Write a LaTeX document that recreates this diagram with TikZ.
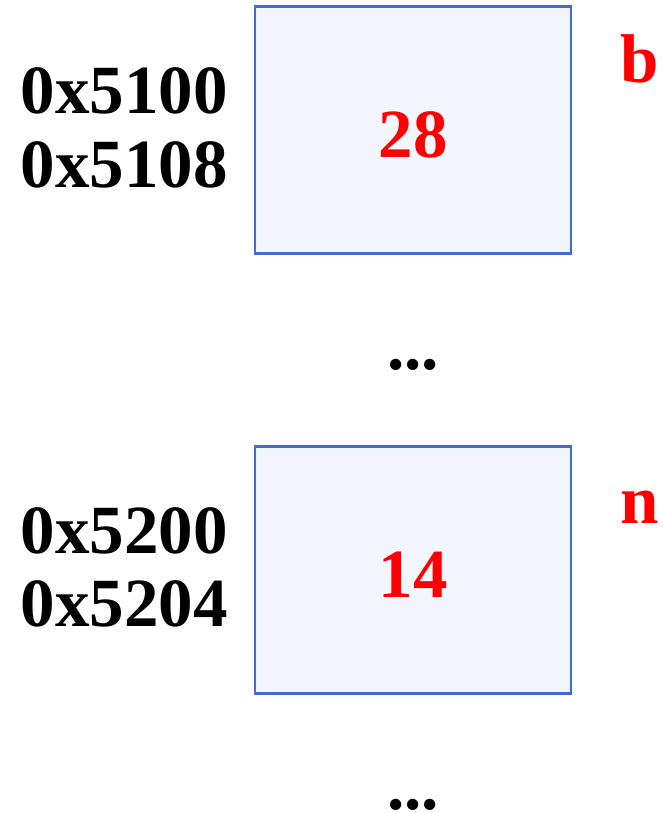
\documentclass[tikz,border=0pt]{standalone}
\usepackage{fontspec}
\setmainfont{Liberation Serif}
\usepackage{xcolor}
\usetikzlibrary{positioning}
\definecolor{edge}{HTML}{4169E1}
\definecolor{pale}{HTML}{F3F6FE}
\definecolor{hot}{HTML}{FF0000}

\begin{document}
\begin{tikzpicture}[
  x=1pt,
  y=-1pt,
  cell/.style={draw=edge, line width=2.4pt, fill=pale, minimum width=316pt, minimum height=247pt, inner sep=0pt},
  addr/.style={anchor=base, inner sep=0pt, font=\fontsize{69}{73}\selectfont\bfseries},
  val/.style={anchor=base, inner sep=0pt, text=hot, font=\fontsize{69}{73}\selectfont\bfseries},
  dots/.style={anchor=base, inner sep=0pt, font=\fontsize{69}{73}\selectfont\bfseries}
]
  \useasboundingbox (0,0) rectangle (663,813);

  \node[cell] (cellb) at (413,130) {};
  \node[val] (valb) at (413,158) {28};
  \node[val] (tagb) at (640,83) {b};
  \node[addr] (addrb1) at (124,114) {0x5100};
  \node[addr] (addrb2) at (124,187) {0x5108};

  \node[dots] (gap1) at (413,369) {...};

  \node[cell] (celln) at (413,570) {};
  \node[val] (valn) at (413,597) {14};
  \node[val] (tagn) at (640,523) {n};
  \node[addr] (addrn1) at (124,553) {0x5200};
  \node[addr] (addrn2) at (124,626) {0x5204};

  \node[dots] (gap2) at (413,809) {...};
\end{tikzpicture}
\end{document}
